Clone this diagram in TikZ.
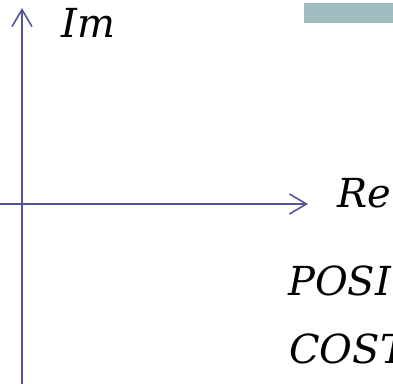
\documentclass[tikz,border=0pt]{standalone}
\usepackage{fontspec}
\newfontfamily\lblfont{DejaVu Serif}
\usetikzlibrary{arrows.meta}
\definecolor{axiscol}{RGB}{82,86,150}
\definecolor{tealbar}{RGB}{160,190,194}
\tikzset{
  axis/.style={draw=axiscol, line width=1.6pt, -{Straight Barb[length=17pt,width=20pt,line width=1.6pt]}},
  lbl/.style={anchor=base west, inner sep=0pt, font=\lblfont\fontsize{40}{40}\selectfont\itshape},
}
\begin{document}
\begin{tikzpicture}[x=1pt,y=-1pt]
\useasboundingbox (0,0) rectangle (393,383);
\clip (0,0) rectangle (393,383);
\fill[tealbar] (304,3) rectangle (393,23);
\coordinate (ybot) at (22,384);
\coordinate (ytop) at (22,8);
\coordinate (xl) at (0,204);
\coordinate (xr) at (308,204);
\draw[axis] (ybot) -- (ytop);
\draw[axis] (xl) -- (xr);
\node[lbl] (im) at (61,37) {Im};
\node[lbl] (re) at (337,207) {Re};
\node[lbl] (posi) at (288,295) {POSI};
\node[lbl] (cost) at (289,363) {COST};
\end{tikzpicture}
\end{document}
